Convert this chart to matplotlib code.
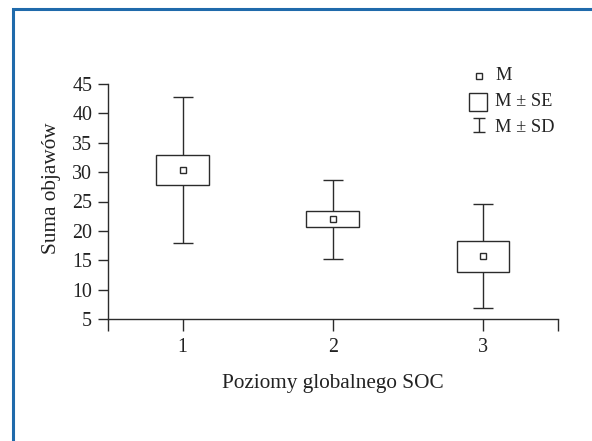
import matplotlib
matplotlib.use('Agg')
import matplotlib.pyplot as plt
import numpy as np
from matplotlib.lines import Line2D
from matplotlib.patches import Rectangle
from matplotlib.path import Path

groups = [1, 2, 3]
means = [30.4, 21.95, 15.65]
se = [2.6, 1.35, 2.65]
sd = [12.4, 6.75, 8.85]

plt.rcParams['font.family'] = ['Liberation Serif', 'DejaVu Serif']
col = '#2b2b2b'
tcol = '#222222'

fig = plt.figure(figsize=(5.92, 4.41), dpi=100)
W, H = 592, 441


def fx(px):
    return px / W


def fy(py):
    return 1 - py / H


ax = fig.add_axes([107.5/W, 1 - 319/H, (558 - 107.5)/W, (319 - 84)/H])

x = np.array(groups, dtype=float)
m = np.array(means)
s = np.array(se)
d = np.array(sd)

# Whisker (SD)
ax.errorbar(x, m, yerr=d, fmt='none', ecolor=col, elinewidth=1.0,
            capsize=7.2, capthick=1.0, zorder=1)
# Box (SE)
ax.bar(x, 2*s, bottom=m - s, width=0.35, color='white', edgecolor=col,
       linewidth=1.0, zorder=2)
# Mittelwert
ax.plot(x, m, 's', ms=5, mfc='white', mec=col, mew=1.0, zorder=3)

ax.set_xlim(0.5, 3.5)
ax.set_ylim(5, 45)
ax.set_xticks([0.5, 1, 2, 3, 3.5])
ax.set_xticklabels(['', '1', '2', '3', ''])
ax.set_yticks(np.arange(5, 46, 5))
ax.spines['top'].set_visible(False)
ax.spines['right'].set_visible(False)
for sp in ['left', 'bottom']:
    ax.spines[sp].set_color(col)
    ax.spines[sp].set_linewidth(1.0)
ax.tick_params(axis='x', direction='out', length=8.5, width=1.0, color=col,
               labelsize=14.4, pad=5, labelcolor=tcol)
ax.tick_params(axis='y', direction='out', length=7, width=1.0, color=col,
               labelsize=14.4, pad=4, labelcolor=tcol)

# Achsentitel
fig.text(fx(333), fy(383.5), 'Poziomy globalnego SOC', fontsize=15.3,
         ha='center', va='center', color=tcol)
fig.text(fx(51.5), fy(188.5), 'Suma objawów', fontsize=15.3, rotation=90,
         ha='center', va='center', color=tcol)

# Legende
ibeam = Path([(-0.45, 0.5), (0.45, 0.5), (0, 0.5), (0, -0.5), (-0.45, -0.5), (0.45, -0.5)],
             [Path.MOVETO, Path.LINETO, Path.MOVETO, Path.LINETO, Path.MOVETO, Path.LINETO])
fig.add_artist(Line2D([fx(479)], [fy(76)], marker='s', ms=5, mfc='white',
                      mec=col, mew=1.0, ls='none'))
fig.add_artist(Line2D([fx(477.5)], [fy(102)], marker='s', ms=12.3, mfc='white',
                      mec=col, mew=1.0, ls='none'))
fig.add_artist(Line2D([fx(479)], [fy(125)], marker=ibeam, ms=9.6, mfc='none',
                      mec=col, mew=1.0, ls='none'))
for yy, t in [(76, 'M'), (102, 'M ± SE'), (128, 'M ± SD')]:
    fig.text(fx(495), fy(yy), t, fontsize=13.2, va='center', ha='left', color=tcol)

# Rahmen
fig.add_artist(Rectangle((fx(13), fy(470)), fx(620), (470 - 9)/H,
                         fill=False, edgecolor='#1f6aab', linewidth=2.2,
                         transform=fig.transFigure, clip_on=False))

fig.savefig('out.png', dpi=100)
